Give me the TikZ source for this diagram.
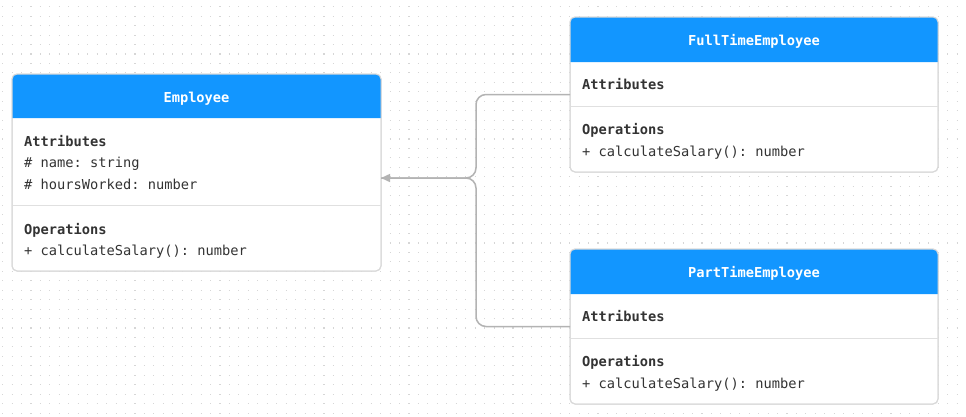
\documentclass[tikz,border=0pt]{standalone}
\usepackage{fontspec}
\setmonofont{DejaVu Sans Mono}
\usetikzlibrary{arrows.meta,calc}
\definecolor{hdr}{HTML}{1296FF}
\definecolor{bord}{HTML}{D9D9D9}
\definecolor{sep}{HTML}{E0E0E0}
\definecolor{txt}{HTML}{333333}
\definecolor{dotc}{HTML}{D6D6D6}
\definecolor{conc}{HTML}{B3B3B3}
\tikzset{
  classbox/.style={draw=bord, line width=1pt, rounded corners=5pt, rectangle, inner sep=0pt, outer sep=0pt},
  title/.style={font=\ttfamily\bfseries\fontsize{13.7pt}{16pt}\selectfont, text=white, text height=12pt, text depth=1.5pt},
  lab/.style={font=\ttfamily\bfseries\fontsize{13.7pt}{16pt}\selectfont, text=txt, anchor=west, inner sep=0pt, text height=12pt, text depth=1.5pt},
  mem/.style={font=\ttfamily\fontsize{13.7pt}{16pt}\selectfont, text=txt, anchor=west, inner sep=0pt, text height=12pt, text depth=1.5pt},
  seprule/.style={draw=sep, line width=1pt},
  conn/.style={draw=conc, line width=1.5pt, rounded corners=10pt},
  dotrow/.style={draw=dotc, line width=1.1pt, dash pattern=on 1.1pt off 8.35pt},
}
\begin{document}
\begin{tikzpicture}[x=1pt,y=-1pt]
\fill[white] (0,0) rectangle (966,416);
\useasboundingbox (0,0) rectangle (966,416);
\foreach \j in {0,...,43} {\draw[dotrow] (2.1,6.7+9.45*\j) -- (966,6.7+9.45*\j);}

% Employee
\node[classbox, fill=white, minimum width=369pt, minimum height=197pt] (emp) at (196.5,172.5) {};
\fill[hdr] ($(emp.north west)+(0,44)$) [rounded corners=5pt] -- (emp.north west) -- (emp.north east) [sharp corners] -- ($(emp.north east)+(0,44)$) -- cycle;
\node[classbox, minimum width=369pt, minimum height=197pt] at (emp.center) {};
\node[title] (empt) at (196.5,97) {Employee};
\node[lab] (empa) at (24,141) {Attributes};
\node[mem] (emp1) at (24,162.5) {\# name: string};
\node[mem] (emp2) at (24,184) {\# hoursWorked: number};
\draw[seprule] (12.5,205) -- (380.5,205);
\node[lab] (empo) at (24,229) {Operations};
\node[mem] (emp3) at (24,250.5) {+ calculateSalary(): number};

% FullTimeEmployee
\node[classbox, fill=white, minimum width=368pt, minimum height=155pt] (ft) at (754,94.5) {};
\fill[hdr] ($(ft.north west)+(0,45)$) [rounded corners=5pt] -- (ft.north west) -- (ft.north east) [sharp corners] -- ($(ft.north east)+(0,45)$) -- cycle;
\node[classbox, minimum width=368pt, minimum height=155pt] at (ft.center) {};
\node[title] (ftt) at (754,40) {FullTimeEmployee};
\node[lab] (fta) at (582,84.5) {Attributes};
\draw[seprule] (570.5,106.5) -- (937.5,106.5);
\node[lab] (fto) at (582,129.5) {Operations};
\node[mem] (ft1) at (582,151) {+ calculateSalary(): number};

% PartTimeEmployee
\node[classbox, fill=white, minimum width=368pt, minimum height=155pt] (pt) at (754,326.5) {};
\fill[hdr] ($(pt.north west)+(0,45)$) [rounded corners=5pt] -- (pt.north west) -- (pt.north east) [sharp corners] -- ($(pt.north east)+(0,45)$) -- cycle;
\node[classbox, minimum width=368pt, minimum height=155pt] at (pt.center) {};
\node[title] (ptt) at (754,272) {PartTimeEmployee};
\node[lab] (pta) at (582,316.5) {Attributes};
\draw[seprule] (570.5,338) -- (937.5,338);
\node[lab] (pto) at (582,361.5) {Operations};
\node[mem] (pt1) at (582,383) {+ calculateSalary(): number};

% connectors
\coordinate (j) at (476,178);
\draw[conn] (pt.west) -| (j) -- (emp.east |- j);
\draw[conn, -{Triangle[length=9pt,width=8pt]}] (ft.west) -| (j) -- (emp.east |- j);
\end{tikzpicture}
\end{document}
